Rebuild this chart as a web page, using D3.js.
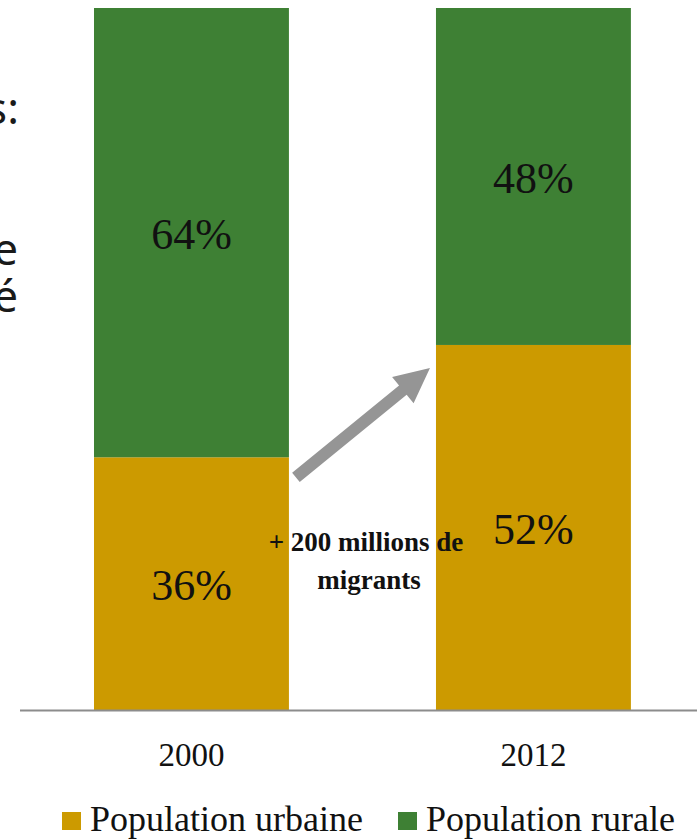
<!DOCTYPE html>
<html>
<head>
<meta charset="utf-8">
<style>
  body { margin: 0; background: #fff; }
  svg { display: block; }
</style>
</head>
<body>
<svg width="697" height="839"></svg>
<script src="https://d3js.org/d3.v7.min.js"></script>
<script>

var years = ["2000", "2012"],
    urbaine = [36, 52],
    rurale = [64, 48],
    seriesNames = ["Population urbaine", "Population rurale"],
    colors = ["#cc9a00", "#3e8034"];

var svg = d3.select("svg"),
    width = +svg.attr("width"),
    height = +svg.attr("height");

var x = d3.scaleBand().domain(years).range([25.6, 699.3]).paddingInner(0.43).paddingOuter(0.2);
var y = d3.scaleLinear().domain([0, 100]).range([710, 8]);

// stack the two series
var rows = years.map(function(yr, i) { return {year: yr, urbaine: urbaine[i], rurale: rurale[i]}; });
var stack = d3.stack().keys(["urbaine", "rurale"])(rows);

// bits of slide text cut off on the left
var leftText = svg.append("g")
    .attr("font-family", "'Noto Sans', sans-serif")
    .attr("font-size", 44)
    .attr("fill", "#1a1a1a")
    .attr("text-anchor", "end");
leftText.append("text").attr("x", 19).attr("y", 124).text("Chiffres:");
leftText.append("text").attr("x", 18).attr("y", 265).text("urbaine");
leftText.append("text").attr("x", 18).attr("y", 312).text("société");

var layer = svg.append("g").selectAll("g")
  .data(stack)
  .enter().append("g")
    .attr("fill", function(d, i) { return colors[i]; });

layer.selectAll("rect")
  .data(function(d) { return d; })
  .enter().append("rect")
    .attr("x", function(d) { return x(d.data.year); })
    .attr("y", function(d) { return y(d[1]); })
    .attr("width", x.bandwidth())
    .attr("height", function(d) { return y(d[0]) - y(d[1]); });

// percent labels in each segment
layer.selectAll("text")
  .data(function(d) { return d; })
  .enter().append("text")
    .attr("x", function(d) { return x(d.data.year) + x.bandwidth() / 2; })
    .attr("y", function(d) { return (y(d[0]) + y(d[1])) / 2 + 16.5; })
    .attr("text-anchor", "middle")
    .attr("font-family", "'Liberation Serif', serif")
    .attr("font-size", 44)
    .attr("fill", "#111")
    .text(function(d) { return (d[1] - d[0]) + "%"; });

// axis baseline
svg.append("line")
    .attr("x1", 20).attr("x2", width)
    .attr("y1", y(0) + 0.5).attr("y2", y(0) + 0.5)
    .attr("stroke", "#8c8c8c").attr("stroke-width", 2);

svg.append("g").selectAll("text")
  .data(years)
  .enter().append("text")
    .attr("x", function(d) { return x(d) + x.bandwidth() / 2; })
    .attr("y", 766)
    .attr("text-anchor", "middle")
    .attr("font-family", "'Liberation Serif', serif")
    .attr("font-size", 33)
    .attr("fill", "#111")
    .text(function(d) { return d; });

// arrow from top of 2000 urban to top of 2012 urban
var x0 = x(years[0]) + x.bandwidth() + 7, y0 = y(urbaine[0]) + 20,
    x1 = x(years[1]) - 6, y1 = y(urbaine[1]) + 23;
var ang = Math.atan2(y1 - y0, x1 - x0),
    headLen = 35, headW = 17, shaftW = 6;
var ux = Math.cos(ang), uy = Math.sin(ang), px = -uy, py = ux;
var bx = x1 - ux * headLen, by = y1 - uy * headLen;
var pts = [
  [x0 + px * shaftW, y0 + py * shaftW],
  [bx + px * shaftW, by + py * shaftW],
  [bx + px * headW, by + py * headW],
  [x1, y1],
  [bx - px * headW, by - py * headW],
  [bx - px * shaftW, by - py * shaftW],
  [x0 - px * shaftW, y0 - py * shaftW]
];
svg.append("path")
    .attr("d", d3.line()(pts) + "Z")
    .attr("fill", "#959595");

var note = svg.append("g")
    .attr("font-family", "'Liberation Serif', serif")
    .attr("font-weight", "bold")
    .attr("font-size", 27)
    .attr("fill", "#111")
    .attr("text-anchor", "middle");
note.append("text").attr("x", 366).attr("y", 551).text("+ 200 millions de");
note.append("text").attr("x", 369).attr("y", 589).text("migrants");

// legend
var legend = svg.append("g").attr("font-family", "'Liberation Serif', serif")
    .attr("font-size", 36).attr("fill", "#111");
var legX = [62, 398];
seriesNames.forEach(function(name, i) {
  legend.append("rect").attr("x", legX[i]).attr("y", 812).attr("width", 19).attr("height", 18)
      .attr("fill", colors[i]);
  legend.append("text").attr("x", legX[i] + 28).attr("y", 831).text(name);
});

</script>
</body>
</html>
